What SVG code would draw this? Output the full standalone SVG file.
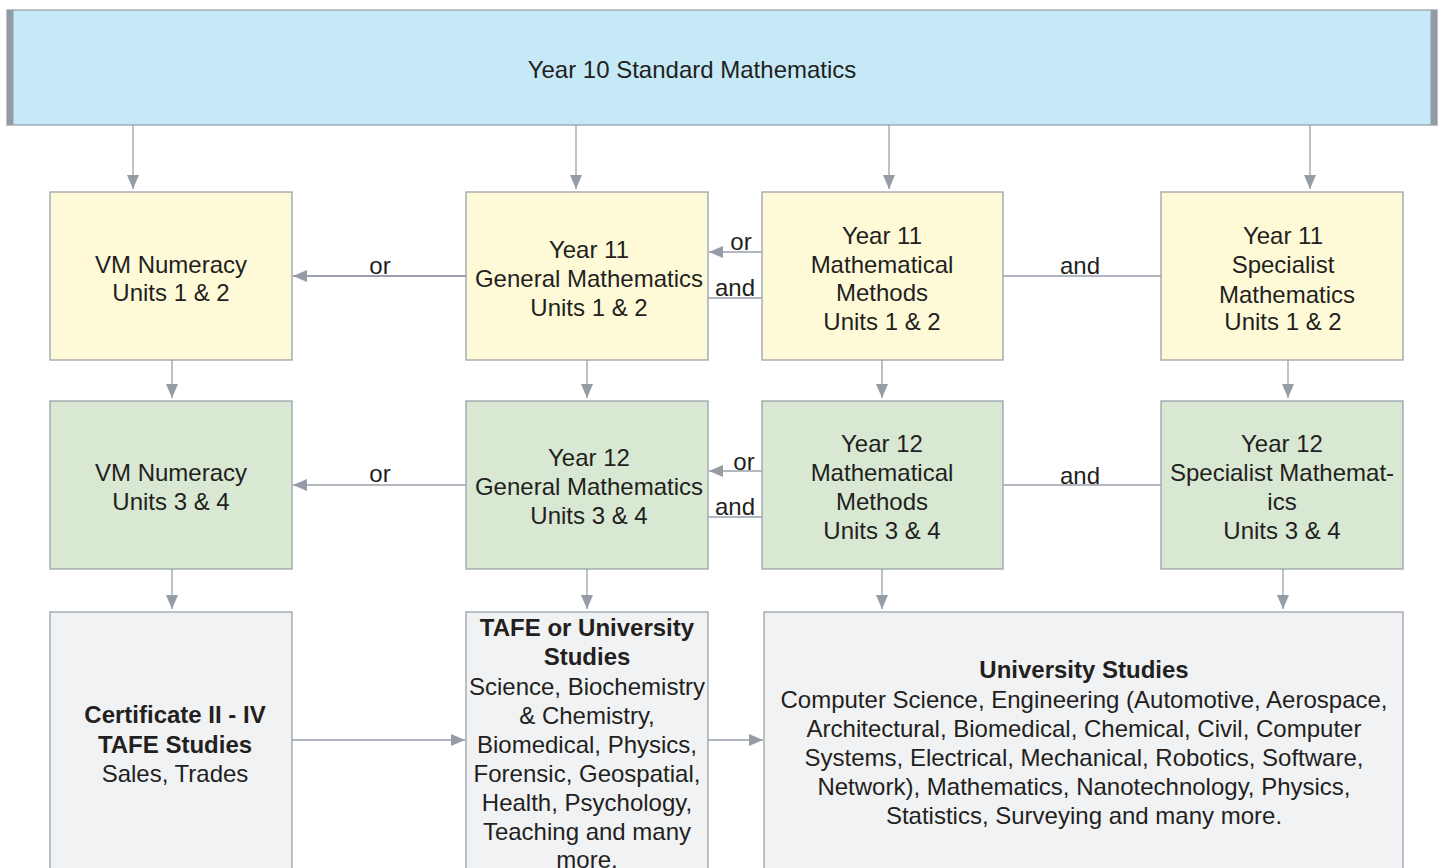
<svg xmlns="http://www.w3.org/2000/svg" width="1442" height="868" viewBox="0 0 1442 868">
<style>
text{font-family:"Liberation Sans",Arial,sans-serif;font-size:24px;fill:#231f20;text-anchor:middle}
.b{font-weight:bold}
.box{stroke:#9aa1ab;stroke-width:1.3}
.y{fill:#fefad8}
.g{fill:#d8e8d3}
.gr{fill:#f1f2f4}
.ln{stroke:#9aa1ab;stroke-width:1.3;fill:none}
.thick{stroke-width:2.2}
</style>
<defs>
<marker id="ah" viewBox="0 0 14 12" refX="14" refY="6" markerWidth="14" markerHeight="12" markerUnits="userSpaceOnUse" orient="auto">
<path d="M0,0 L14,6 L0,12 Z" fill="#959ca6"/>
</marker>
</defs>
<g id="top">
<rect x="7" y="10" width="1430" height="115" fill="#c6e9f8" stroke="#9aa1ab" stroke-width="1.3"/>
<rect x="7" y="10" width="6.5" height="115" fill="#949ba5"/>
<rect x="1430.5" y="10" width="6.5" height="115" fill="#949ba5"/>
<text x="692" y="78">Year 10 Standard Mathematics</text>
</g>
<g id="connectors">
<line class="ln" x1="133" y1="125" x2="133" y2="189" marker-end="url(#ah)"/>
<line class="ln" x1="576" y1="125" x2="576" y2="189" marker-end="url(#ah)"/>
<line class="ln" x1="889" y1="125" x2="889" y2="189" marker-end="url(#ah)"/>
<line class="ln" x1="1310" y1="125" x2="1310" y2="189" marker-end="url(#ah)"/>
<line class="ln" x1="172" y1="360" x2="172" y2="398" marker-end="url(#ah)"/>
<line class="ln" x1="587" y1="360" x2="587" y2="398" marker-end="url(#ah)"/>
<line class="ln" x1="882" y1="360" x2="882" y2="398" marker-end="url(#ah)"/>
<line class="ln" x1="1288" y1="360" x2="1288" y2="398" marker-end="url(#ah)"/>
<line class="ln" x1="172" y1="569" x2="172" y2="609" marker-end="url(#ah)"/>
<line class="ln" x1="587" y1="569" x2="587" y2="609" marker-end="url(#ah)"/>
<line class="ln" x1="882" y1="569" x2="882" y2="609" marker-end="url(#ah)"/>
<line class="ln" x1="1283" y1="569" x2="1283" y2="609" marker-end="url(#ah)"/>
<line class="ln thick" x1="466" y1="276" x2="293" y2="276" marker-end="url(#ah)"/>
<line class="ln" x1="762" y1="252" x2="709" y2="252" marker-end="url(#ah)"/>
<line class="ln" x1="708" y1="298" x2="762" y2="298"/>
<line class="ln" x1="1003" y1="276" x2="1161" y2="276"/>
<line class="ln" x1="466" y1="485" x2="293" y2="485" marker-end="url(#ah)"/>
<line class="ln" x1="762" y1="471" x2="709" y2="471" marker-end="url(#ah)"/>
<line class="ln" x1="708" y1="517" x2="762" y2="517"/>
<line class="ln" x1="1003" y1="485" x2="1161" y2="485"/>
<line class="ln" x1="292" y1="740" x2="465" y2="740" marker-end="url(#ah)"/>
<line class="ln" x1="708" y1="740" x2="763" y2="740" marker-end="url(#ah)"/>
<text x="380" y="274">or</text>
<text x="741" y="250">or</text>
<text x="735" y="296">and</text>
<text x="1080" y="274">and</text>
<text x="380" y="482">or</text>
<text x="744" y="470">or</text>
<text x="735" y="515">and</text>
<text x="1080" y="484">and</text>
</g>
<g id="vm12">
<rect class="box y" x="50" y="192" width="242" height="168"/>
<text x="171" y="273">VM Numeracy</text>
<text x="171" y="301">Units 1 &amp; 2</text>
</g>
<g id="gen11">
<rect class="box y" x="466" y="192" width="242" height="168"/>
<text x="589" y="258">Year 11</text>
<text x="589" y="287">General Mathematics</text>
<text x="589" y="316">Units 1 &amp; 2</text>
</g>
<g id="meth11">
<rect class="box y" x="762" y="192" width="241" height="168"/>
<text x="882" y="244">Year 11</text>
<text x="882" y="273">Mathematical</text>
<text x="882" y="301">Methods</text>
<text x="882" y="330">Units 1 &amp; 2</text>
</g>
<g id="spec11">
<rect class="box y" x="1161" y="192" width="242" height="168"/>
<text x="1283" y="244">Year 11</text>
<text x="1283" y="273">Specialist</text>
<text x="1287" y="303">Mathematics</text>
<text x="1283" y="330">Units 1 &amp; 2</text>
</g>
<g id="vm34">
<rect class="box g" x="50" y="401" width="242" height="168"/>
<text x="171" y="481">VM Numeracy</text>
<text x="171" y="510">Units 3 &amp; 4</text>
</g>
<g id="gen12">
<rect class="box g" x="466" y="401" width="242" height="168"/>
<text x="589" y="466">Year 12</text>
<text x="589" y="495">General Mathematics</text>
<text x="589" y="524">Units 3 &amp; 4</text>
</g>
<g id="meth12">
<rect class="box g" x="762" y="401" width="241" height="168"/>
<text x="882" y="452">Year 12</text>
<text x="882" y="481">Mathematical</text>
<text x="882" y="510">Methods</text>
<text x="882" y="539">Units 3 &amp; 4</text>
</g>
<g id="spec12">
<rect class="box g" x="1161" y="401" width="242" height="168"/>
<text x="1282" y="452">Year 12</text>
<text x="1282" y="481">Specialist Mathemat-</text>
<text x="1282" y="510">ics</text>
<text x="1282" y="539">Units 3 &amp; 4</text>
</g>
<g id="cert">
<rect class="box gr" x="50" y="612" width="242" height="270"/>
<text class="b" x="175" y="723">Certificate II - IV</text>
<text class="b" x="175" y="753">TAFE Studies</text>
<text x="175" y="782">Sales, Trades</text>
</g>
<g id="tafe">
<rect class="box gr" x="466" y="612" width="242" height="270"/>
<text class="b" x="587" y="636">TAFE or University</text>
<text class="b" x="587" y="665">Studies</text>
<text x="587" y="695">Science, Biochemistry</text>
<text x="587" y="724">&amp; Chemistry,</text>
<text x="587" y="753">Biomedical, Physics,</text>
<text x="587" y="782">Forensic, Geospatial,</text>
<text x="587" y="811">Health, Psychology,</text>
<text x="587" y="840">Teaching and many</text>
<text x="587" y="868">more.</text>
</g>
<g id="uni">
<rect class="box gr" x="764" y="612" width="639" height="270"/>
<text class="b" x="1084" y="678">University Studies</text>
<text x="1084" y="708">Computer Science, Engineering (Automotive, Aerospace,</text>
<text x="1084" y="737">Architectural, Biomedical, Chemical, Civil, Computer</text>
<text x="1084" y="766">Systems, Electrical, Mechanical, Robotics, Software,</text>
<text x="1084" y="795">Network), Mathematics, Nanotechnology, Physics,</text>
<text x="1084" y="824">Statistics, Surveying and many more.</text>
</g>
</svg>
